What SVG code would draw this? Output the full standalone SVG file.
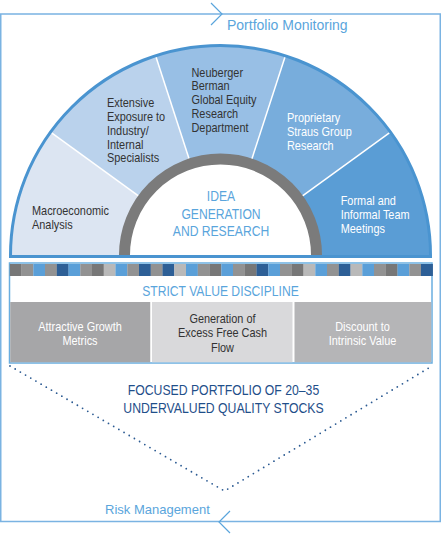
<svg xmlns="http://www.w3.org/2000/svg" width="441" height="535" viewBox="0 0 441 535">
<style>
.n{font-family:"Liberation Sans",Arial,sans-serif}
.r{font-family:"Liberation Sans",Arial,sans-serif}
.lb{fill:#5aa5dc}
.dk{fill:#333333}
.wt{fill:#ffffff}
.seg{font-size:12.2px}
.div{stroke:#ffffff;stroke-width:1.5}
.sq{height:12px;width:11.9px}
.g1{fill:#777777}.g2{fill:#929292}.g3{fill:#b9b9b9}.bl{fill:#5a9fd8}.db{fill:#2d5f96}
</style>
<rect width="441" height="535" fill="#ffffff"/>
<g id="frame">
<rect x="0.75" y="14" width="439.5" height="507.5" fill="none" stroke="#7ab3e2" stroke-width="1.5"/>
</g>
<g id="portfolio-monitoring">
<polyline points="211,3 222,14 211,25" fill="none" stroke="#5aa5dc" stroke-width="1.2"/>
<text class="r lb" x="227" y="30" font-size="14">Portfolio Monitoring</text>
</g>
<g id="risk-management">
<polyline points="230,511 219,522 230,533" fill="none" stroke="#5aa5dc" stroke-width="1.2"/>
<text class="r lb" x="105" y="514" font-size="13">Risk Management</text>
</g>
<g id="arc">
<g id="seg-macro">
<path d="M10.5,255.5 A210,210 0 0 1 50.61,132.06 L142.84,199.07 A96,96 0 0 0 124.5,255.5 Z" fill="#dce5f2"/>
<text class="n dk seg" transform="matrix(0.895 0 0 1 3.36 0)"><tspan x="32" y="215">Macroeconomic</tspan><tspan x="32" y="229">Analysis</tspan></text>
</g>
<g id="seg-extensive">
<path d="M50.61,132.06 A210,210 0 0 1 155.61,55.77 L190.84,164.19 A96,96 0 0 0 142.84,199.07 Z" fill="#bad2ec"/>
<text class="n dk seg" transform="matrix(0.895 0 0 1 11.235 0)"><tspan x="107" y="107.5">Extensive</tspan><tspan x="107" y="121.2">Exposure to</tspan><tspan x="107" y="135">Industry/</tspan><tspan x="107" y="148.7">Internal</tspan><tspan x="107" y="162.5">Specialists</tspan></text>
</g>
<g id="seg-neuberger">
<path d="M155.61,55.77 A210,210 0 0 1 285.39,55.77 L250.16,164.19 A96,96 0 0 0 190.84,164.19 Z" fill="#98bfe5"/>
<text class="n dk seg" transform="matrix(0.895 0 0 1 20.11 0)"><tspan x="191.5" y="76.7">Neuberger</tspan><tspan x="191.5" y="90.5">Berman</tspan><tspan x="191.5" y="104.3">Global Equity</tspan><tspan x="191.5" y="118.1">Research</tspan><tspan x="191.5" y="131.9">Department</tspan></text>
</g>
<g id="seg-proprietary">
<path d="M285.39,55.77 A210,210 0 0 1 390.39,132.06 L298.16,199.07 A96,96 0 0 0 250.16,164.19 Z" fill="#78addc"/>
<text class="n wt seg" transform="matrix(0.895 0 0 1 30.135 0)"><tspan x="287" y="122">Proprietary</tspan><tspan x="287" y="136.2">Straus Group</tspan><tspan x="287" y="150.4">Research</tspan></text>
</g>
<g id="seg-formal">
<path d="M390.39,132.06 A210,210 0 0 1 430.5,255.5 L316.5,255.5 A96,96 0 0 0 298.16,199.07 Z" fill="#5a9dd5"/>
<text class="n wt seg" transform="matrix(0.895 0 0 1 35.77 0)"><tspan x="340.7" y="205">Formal and</tspan><tspan x="340.7" y="219.2">Informal Team</tspan><tspan x="340.7" y="233.4">Meetings</tspan></text>
</g>
<g id="dividers">
<line class="div" x1="50.61" y1="132.06" x2="138.8" y2="196.1"/>
<line class="div" x1="155.61" y1="55.77" x2="189.3" y2="159.4"/>
<line class="div" x1="285.39" y1="55.77" x2="251.7" y2="159.4"/>
<line class="div" x1="390.39" y1="132.06" x2="302.2" y2="196.1"/>
</g>
<path d="M10.5,255.5 A210,210 0 0 1 430.5,255.5" fill="none" stroke="#4a94d0" stroke-width="3"/>
<line x1="9" y1="256.5" x2="432" y2="256.5" stroke="#4a94d0" stroke-width="3"/>
</g>
<g id="idea">
<path d="M124.5,255 A96,96 0 0 1 316.5,255 Z" fill="#ffffff"/>
<path d="M124.5,255 A96,96 0 0 1 316.5,255" fill="none" stroke="#7b7b7b" stroke-width="11"/>
<text class="n lb" font-size="14.8" text-anchor="middle" transform="matrix(0.82 0 0 1 39.78 0)"><tspan x="221" y="201">IDEA</tspan><tspan x="221" y="219.5">GENERATION</tspan><tspan x="221" y="236">AND RESEARCH</tspan></text>
</g>
<g id="strict-value">
<rect x="9.5" y="263" width="422.5" height="100" fill="#ffffff" stroke="#6aaee0" stroke-width="1.5"/>
<g id="checker">
<rect class="sq g1" x="9.8" y="264"/><rect class="sq g2" x="21.5" y="264"/><rect class="sq bl" x="33.3" y="264"/><rect class="sq g2" x="45" y="264"/>
<rect class="sq db" x="56.8" y="264"/><rect class="sq bl" x="68.5" y="264"/><rect class="sq g2" x="80.3" y="264"/><rect class="sq g1" x="92" y="264"/>
<rect class="sq g3" x="103.8" y="264"/><rect class="sq bl" x="115.5" y="264"/><rect class="sq g2" x="127.3" y="264"/><rect class="sq db" x="139" y="264"/>
<rect class="sq g2" x="150.8" y="264"/><rect class="sq db" x="162.5" y="264"/><rect class="sq g3" x="174.3" y="264"/><rect class="sq bl" x="186" y="264"/>
<rect class="sq g2" x="197.8" y="264"/><rect class="sq g1" x="209.5" y="264"/><rect class="sq bl" x="221.3" y="264"/><rect class="sq g2" x="233" y="264"/>
<rect class="sq g1" x="244.8" y="264"/><rect class="sq db" x="256.5" y="264"/><rect class="sq bl" x="268.3" y="264"/><rect class="sq g2" x="280" y="264"/>
<rect class="sq g1" x="291.8" y="264"/><rect class="sq g3" x="303.5" y="264"/><rect class="sq bl" x="315.3" y="264"/><rect class="sq g2" x="327" y="264"/>
<rect class="sq db" x="338.8" y="264"/><rect class="sq g3" x="350.5" y="264"/><rect class="sq bl" x="362.3" y="264"/><rect class="sq g2" x="374" y="264"/>
<rect class="sq g1" x="385.8" y="264"/><rect class="sq bl" x="397.5" y="264"/><rect class="sq g2" x="409.3" y="264"/><rect class="sq db" x="421" y="264" width="10.3"/>
</g>
<text class="n lb" x="220.5" y="296" font-size="14.8" text-anchor="middle" transform="matrix(0.82 0 0 1 39.69 0)">STRICT VALUE DISCIPLINE</text>
</g>
<g id="box-growth">
<rect x="10.25" y="302" width="140" height="60.25" fill="#a6a6a8"/>
<text class="n wt" font-size="12.2" text-anchor="middle" transform="matrix(0.895 0 0 1 8.4 0)"><tspan x="80" y="331">Attractive Growth</tspan><tspan x="80" y="345">Metrics</tspan></text>
</g>
<g id="box-cash">
<rect x="152" y="302" width="140.5" height="60.25" fill="#d9d9db"/>
<text class="n dk" font-size="12.2" text-anchor="middle" transform="matrix(0.895 0 0 1 23.36 0)"><tspan x="222.5" y="323.1">Generation of</tspan><tspan x="222.5" y="337.5">Excess Free Cash</tspan><tspan x="222.5" y="351.8">Flow</tspan></text>
</g>
<g id="box-discount">
<rect x="294.5" y="302" width="136.75" height="60.25" fill="#b5b5b7"/>
<text class="n wt" font-size="12.2" text-anchor="middle" transform="matrix(0.895 0 0 1 38.06 0)"><tspan x="362.5" y="331">Discount to</tspan><tspan x="362.5" y="345">Intrinsic Value</tspan></text>
</g>
<g id="connectors">
<polyline points="10,366 224.5,491 432,366" fill="none" stroke="#2b5a92" stroke-width="1.8" stroke-dasharray="0 6" stroke-linecap="round"/>
</g>
<g id="focused">
<text class="n" fill="#1f4f8a" font-size="15.5" text-anchor="middle" transform="matrix(0.79 0 0 1 46.94 0)"><tspan x="223.5" y="395">FOCUSED PORTFOLIO OF 20–35</tspan><tspan x="223.5" y="413.3">UNDERVALUED QUALITY STOCKS</tspan></text>
</g>
</svg>
